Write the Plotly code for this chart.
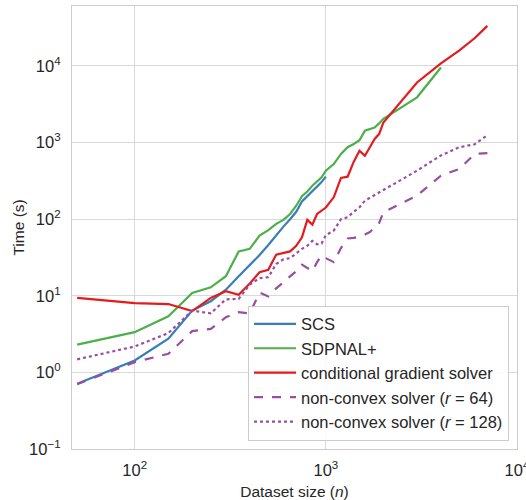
import plotly.graph_objects as go

# dataset sizes
n_small = [50, 100, 150, 200, 250, 300, 350, 400, 450, 500, 550, 600, 650, 700,
           750, 800, 850, 900, 950, 1000]
n_mid = [1100, 1200, 1300, 1400, 1500, 1600, 1700, 1800, 1900, 2000]
n_large = [3000, 4000, 5000, 6000, 7000]

scs_n = n_small
scs_t = [0.71, 1.43, 2.75, 6.4, 8.5, 12, 18, 25, 34, 46, 62, 80, 100, 125,
         170, 200, 235, 270, 305, 360]

sdp_n = n_small + n_mid + [3000, 4000]
sdp_t = [2.3, 3.35, 5.4, 10.9, 12.9, 18, 38, 41, 61, 72, 87, 98, 117, 150,
         200, 230, 274, 310, 352, 430,
         525, 710, 870, 960, 1075, 1430, 1500, 1570, 1780, 2040,
         3900, 9550]

cg_n = n_small + n_mid + n_large
cg_t = [9.4, 8.0, 7.8, 6.3, 9.4, 11.5, 10.3, 14.5, 20.3, 21.8, 34.5, 36, 38, 45,
        58, 98, 85, 117, 130, 142,
        193, 346, 359, 564, 784, 674, 870, 1114, 1290, 1830,
        6100, 10800, 16000, 23000, 33400]

nc64_n = n_small + n_mid + n_large
nc64_t = [0.70, 1.36, 1.75, 3.46, 3.7, 5.25, 6.1, 5.9, 11, 9.8, 12.5, 15, 17.5, 21,
          25.5, 23, 21, 27.5, 33.5, 31,
          27.5, 42, 56, 57, 59, 63, 68, 78, 89, 123,
          203, 370, 453, 710, 730]

nc128_n = n_small + n_mid + n_large
nc128_t = [1.48, 2.18, 3.26, 6.4, 5.9, 9.0, 9.1, 14, 17, 17.5, 26, 30, 31, 36,
           41, 45, 52, 47, 48, 62,
           71, 100, 106, 125, 143, 174, 190, 203, 220, 235,
           430, 680, 870, 950, 1250]

names = ["SCS", "SDPNAL+", "conditional gradient solver",
         "non-convex solver (<i>r</i> = 64)", "non-convex solver (<i>r</i> = 128)"]
colors = ["#377eb8", "#4daf4a", "#e41a1c", "#984ea3", "#984ea3"]
dashes = ["solid", "solid", "solid", "dash", "dot"]
series = [(scs_n, scs_t), (sdp_n, sdp_t), (cg_n, cg_t), (nc64_n, nc64_t), (nc128_n, nc128_t)]

xtick_vals = [100, 1000, 10000]
xtick_text = ["10<sup>2</sup>", "10<sup>3</sup>", "10<sup>4</sup>"]
ytick_vals = [0.1, 1, 10, 100, 1000, 10000]
ytick_text = ["10<sup>−1</sup>", "10<sup>0</sup>", "10<sup>1</sup>", "10<sup>2</sup>",
              "10<sup>3</sup>", "10<sup>4</sup>"]

FONT = "Arial, Liberation Sans, sans-serif"
fig = go.Figure()
for (xs, ys), nm, c, d in zip(series, names, colors, dashes):
    fig.add_trace(go.Scatter(x=xs, y=ys, mode="lines", name=nm,
                             line=dict(color=c, width=2.2, dash=d)))

grid = "#d9d9d9"
fig.update_layout(
    width=526, height=500,
    margin=dict(l=72, r=9, t=6, b=51, autoexpand=False),
    paper_bgcolor="white", plot_bgcolor="white",
    font=dict(family=FONT, size=16, color="#262626"),
    legend=dict(x=0.982, y=0.019, xanchor="right", yanchor="bottom",
                bgcolor="rgba(255,255,255,0.85)", bordercolor="#cccccc", borderwidth=1,
                font=dict(size=16.5, family=FONT, color="#262626"),
                itemwidth=42, tracegroupgap=0),
    xaxis=dict(type="log", range=[1.672, 4.0001], tickvals=xtick_vals, ticktext=xtick_text,
               showgrid=True, gridcolor=grid, gridwidth=1.2, zeroline=False,
               showline=True, linecolor="#cccccc", linewidth=1.2, mirror=True,
               ticks="", ticklabelstandoff=6, ticklabeloverflow="allow",
               tickfont=dict(size=16.5), automargin=False,
               title=dict(text="Dataset size (<i>n</i>)",
                          font=dict(size=15.5))),
    yaxis=dict(type="log", range=[-1, 4.783], tickvals=ytick_vals, ticktext=ytick_text,
               showgrid=True, gridcolor=grid, gridwidth=1.2, zeroline=False,
               showline=True, linecolor="#cccccc", linewidth=1.2, mirror=True,
               ticks="", ticklabelstandoff=7, tickfont=dict(size=16.5), automargin=False),
    annotations=[dict(text="Time (s)", textangle=-90, xref="paper", yref="paper",
                      x=-0.1213, y=0.5, xanchor="center", yanchor="middle",
                      showarrow=False, font=dict(size=15.5, family=FONT, color="#262626"))],
)
fig.write_html("out.html")
